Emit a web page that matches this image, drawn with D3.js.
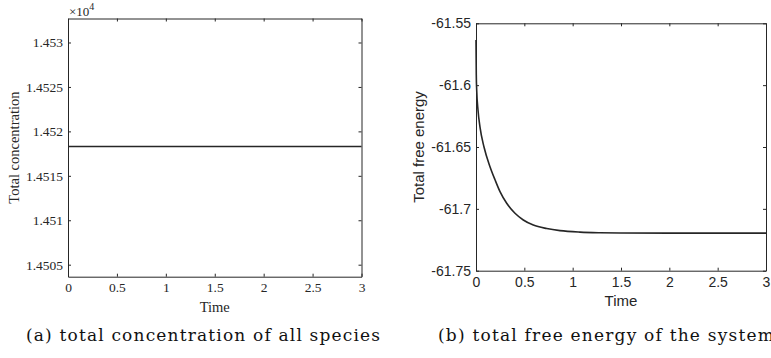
<!DOCTYPE html>
<html>
<head>
<meta charset="utf-8">
<script src="https://cdn.jsdelivr.net/npm/d3@7"></script>
<style>
  body { margin: 0; background: #fff; }
  svg { display: block; }
  .axis-a text { font-family: "Liberation Serif", "Times New Roman", serif; font-size: 13.5px; fill: #262626; }
  .axis-b text { font-family: "Liberation Sans", Arial, sans-serif; font-size: 14px; fill: #262626; }
  .axis-a path, .axis-a line, .axis-b path, .axis-b line { stroke: #262626; }
  .caption { font-family: "DejaVu Serif", serif; font-size: 17px; fill: #111; }
</style>
</head>
<body>
<svg id="fig" width="771" height="358"></svg>
<script>
// (a) total concentration
const concTime = [0, 0.5, 1, 1.5, 2, 2.5, 3];
const concValue = [14518.3, 14518.3, 14518.3, 14518.3, 14518.3, 14518.3, 14518.3];
const concYTicks = [14505, 14510, 14515, 14520, 14525, 14530];

// (b) total free energy
const energyTime = [0, 0.003, 0.0072, 0.0207, 0.0414, 0.0828, 0.1448, 0.1966, 0.2483, 0.3176, 0.4034, 0.4893,
  0.5928, 0.7314, 0.869, 1.076, 1.283, 1.49, 2, 2.5, 3];
const energyValue = [-61.5635, -61.5918, -61.6039, -61.6201, -61.6340, -61.6500, -61.6659, -61.6765, -61.6861,
  -61.6955, -61.7036, -61.7090, -61.7131, -61.7159, -61.7176, -61.7188, -61.7193, -61.7195, -61.7196, -61.7196, -61.7196];
const energyYTicks = [-61.75, -61.7, -61.65, -61.6, -61.55];

const timeTicks = [0, 0.5, 1, 1.5, 2, 2.5, 3];

const svg = d3.select("#fig");
svg.append("rect").attr("width", 771).attr("height", 358).attr("fill", "#fff");

function drawPanel(opts) {
  const { left, top, right, bottom, xDomain, yDomain, yTicks, yFormat, cls, xs, ys, font, labelSize, ylabel, ylabelX } = opts;
  const x = d3.scaleLinear().domain(xDomain).range([left, right]);
  const y = d3.scaleLinear().domain(yDomain).range([bottom, top]);
  const g = svg.append("g").attr("class", cls);

  const fmtX = d => String(d);

  g.append("g").attr("transform", `translate(0,${bottom})`)
    .call(d3.axisBottom(x).tickValues(timeTicks).tickSizeInner(-3).tickSizeOuter(0).tickPadding(6).tickFormat(fmtX));
  g.append("g").attr("transform", `translate(0,${top})`)
    .call(d3.axisTop(x).tickValues(timeTicks).tickSizeInner(-3).tickSizeOuter(0).tickFormat(""));
  g.append("g").attr("transform", `translate(${left},0)`)
    .call(d3.axisLeft(y).tickValues(yTicks).tickSizeInner(-3).tickSizeOuter(0).tickPadding(5).tickFormat(yFormat));
  g.append("g").attr("transform", `translate(${right},0)`)
    .call(d3.axisRight(y).tickValues(yTicks).tickSizeInner(-3).tickSizeOuter(0).tickFormat(""));

  const line = d3.line().x(d => x(d[0])).y(d => y(d[1])).curve(d3.curveMonotoneX);
  g.append("path")
    .datum(xs.map((t, i) => [t, ys[i]]))
    .attr("fill", "none")
    .attr("stroke", "#000")
    .attr("stroke-width", 1.6)
    .attr("d", line);

  g.append("text")
    .attr("x", (left + right) / 2)
    .attr("y", bottom + 35)
    .attr("text-anchor", "middle")
    .style("font-family", font)
    .style("font-size", labelSize + "px")
    .attr("fill", "#262626")
    .text("Time");

  g.append("text")
    .attr("transform", `translate(${ylabelX},${(top + bottom) / 2}) rotate(-90)`)
    .attr("text-anchor", "middle")
    .style("font-family", font)
    .style("font-size", labelSize + "px")
    .attr("fill", "#262626")
    .text(ylabel);
  return { x, y, g };
}

const a = drawPanel({
  left: 68, top: 18.5, right: 361.5, bottom: 276.7,
  xDomain: [0, 3], yDomain: [14503.65, 14532.7],
  yTicks: concYTicks, yFormat: d => String(+(d / 1e4).toFixed(4)),
  cls: "axis-a", xs: concTime, ys: concValue,
  font: "'Liberation Serif', serif", labelSize: 14.5,
  ylabel: "Total concentration", ylabelX: 19
});

const exp = a.g.append("text")
  .attr("x", 69)
  .attr("y", 16)
  .style("font-family", "'Liberation Serif', serif")
  .style("font-size", "13px")
  .attr("fill", "#262626");
exp.append("tspan").text("×10");
exp.append("tspan").attr("dy", -6).style("font-size", "10px").text("4");

drawPanel({
  left: 476, top: 23.3, right: 766, bottom: 270.7,
  xDomain: [0, 3], yDomain: [-61.75, -61.55],
  yTicks: energyYTicks, yFormat: d => String(+d.toFixed(2)),
  cls: "axis-b", xs: energyTime, ys: energyValue,
  font: "'Liberation Sans', sans-serif", labelSize: 15,
  ylabel: "Total free energy", ylabelX: 424
});

const capA = svg.append("text").attr("class", "caption")
  .attr("x", 26).attr("y", 341)
  .text("(a) total concentration of all species");
const capB = svg.append("text").attr("class", "caption")
  .attr("x", 438).attr("y", 341)
  .text("(b) total free energy of the system");
// stretch captions to the wider LaTeX look
const stretch = 354 / capA.node().getComputedTextLength();
capA.attr("textLength", 354).attr("lengthAdjust", "spacing");
capB.attr("textLength", capB.node().getComputedTextLength() * stretch).attr("lengthAdjust", "spacing");
</script>
</body>
</html>
